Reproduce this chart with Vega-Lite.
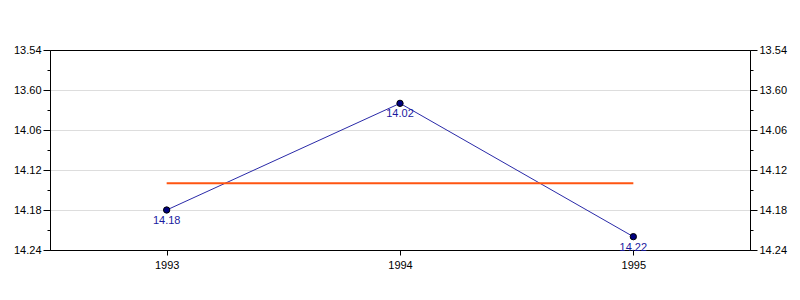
{
  "$schema": "https://vega.github.io/schema/vega-lite/v6.json",
  "width": 700,
  "height": 200,
  "autosize": "none",
  "padding": {"left": 50, "top": 50, "right": 50, "bottom": 50},
  "background": "white",
  "config": {
    "view": {"stroke": "black", "strokeWidth": 1},
    "axis": {
      "labelFont": "Liberation Sans",
      "labelFontSize": 11,
      "labelColor": "black",
      "domainColor": "black",
      "tickColor": "black",
      "titleFontSize": 0
    }
  },
  "data": {
    "values": [
      {"year": 1993, "v": 858, "label": "14.18"},
      {"year": 1994, "v": 842, "label": "14.02"},
      {"year": 1995, "v": 862, "label": "14.22"}
    ]
  },
  "layer": [
    {
      "mark": {"type": "line", "color": "#2a2aa8", "strokeWidth": 1},
      "encoding": {
        "x": {
          "field": "year", "type": "quantitative",
          "scale": {"domain": [1992.5, 1995.5], "nice": false, "zero": false},
          "axis": {"values": [1993, 1994, 1995], "format": "d", "grid": false, "title": null, "tickSize": 5, "labelPadding": 4}
        },
        "y": {
          "field": "v", "type": "quantitative",
          "scale": {"domain": [834, 864], "nice": false, "zero": false, "reverse": true},
          "axis": {
            "orient": "left",
            "title": null,
            "values": [834, 837, 840, 843, 846, 849, 852, 855, 858, 861, 864],
            "labelExpr": "datum.value == 834 ? '13.54' : datum.value == 840 ? '13.60' : datum.value == 846 ? '14.06' : datum.value == 852 ? '14.12' : datum.value == 858 ? '14.18' : datum.value == 864 ? '14.24' : ''",
            "tickSize": {"condition": {"test": "datum.value % 6 == 0", "value": 7}, "value": 3},
            "grid": true,
            "gridColor": "#dddddd",
            "gridOpacity": {"condition": {"test": "datum.value % 6 == 0 && datum.value != 834 && datum.value != 864", "value": 1}, "value": 0},
            "labelPadding": 2
          }
        }
      }
    },
    {
      "mark": {"type": "rule", "color": "#ff5511", "strokeWidth": 2},
      "encoding": {
        "x": {"aggregate": "min", "field": "year", "type": "quantitative"},
        "x2": {"aggregate": "max", "field": "year"},
        "y": {
          "aggregate": "mean", "field": "v", "type": "quantitative",
          "axis": {
            "orient": "right",
            "title": null,
            "values": [834, 837, 840, 843, 846, 849, 852, 855, 858, 861, 864],
            "labelExpr": "datum.value == 834 ? '13.54' : datum.value == 840 ? '13.60' : datum.value == 846 ? '14.06' : datum.value == 852 ? '14.12' : datum.value == 858 ? '14.18' : datum.value == 864 ? '14.24' : ''",
            "tickSize": {"condition": {"test": "datum.value % 6 == 0", "value": 7}, "value": 3},
            "grid": false,
            "labelPadding": 2
          }
        }
      }
    },
    {
      "mark": {"type": "point", "filled": true, "fill": "#000080", "stroke": "black", "strokeWidth": 1, "size": 40, "opacity": 1},
      "encoding": {
        "x": {"field": "year", "type": "quantitative"},
        "y": {"field": "v", "type": "quantitative", "axis": null}
      }
    },
    {
      "mark": {"type": "text", "color": "#1a1aa0", "font": "Liberation Sans", "fontSize": 11, "baseline": "top", "dy": 5},
      "encoding": {
        "x": {"field": "year", "type": "quantitative"},
        "y": {"field": "v", "type": "quantitative", "axis": null},
        "text": {"field": "label"}
      }
    }
  ],
  "resolve": {"axis": {"y": "independent"}}
}
